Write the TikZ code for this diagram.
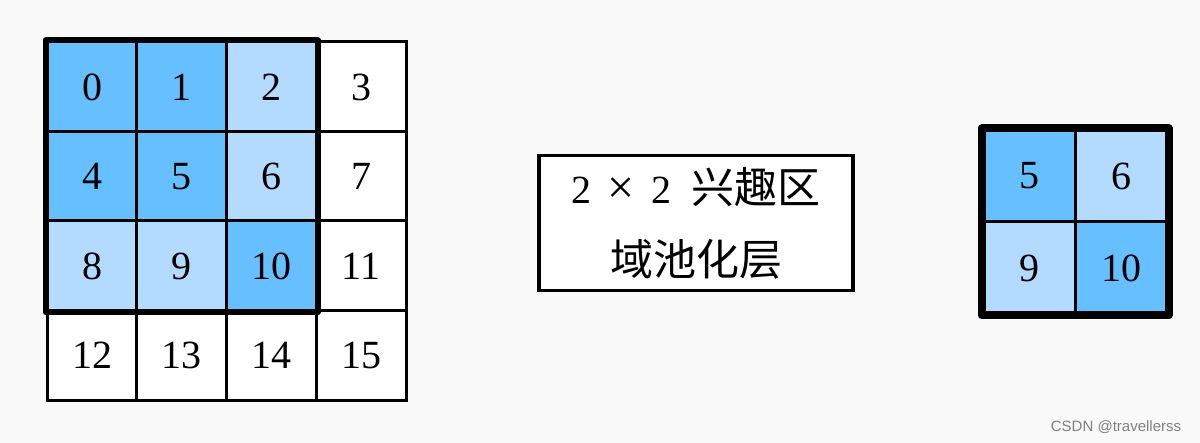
\documentclass[tikz,border=0pt]{standalone}
\usepackage{fontspec}
\setmainfont{Liberation Serif}
\newfontfamily\cjk{Noto Sans CJK SC}
\newfontfamily\wmfont{Liberation Sans}
\definecolor{poolhi}{RGB}{102,191,255}
\definecolor{poollo}{RGB}{179,218,255}
\definecolor{pagebg}{RGB}{249,249,249}
\tikzset{
  cell/.style={draw, line width=3pt, minimum size=90pt, inner sep=0pt,
    font=\fontsize{40}{44}\selectfont},
  outcell/.style={cell, minimum size=92pt},
}
\begin{document}
\begin{tikzpicture}[x=1pt,y=-1pt]
\fill[pagebg] (0,0) rectangle (1200,443);
\useasboundingbox (0,0) rectangle (1200,443);
% input 4x4
\foreach \n/\fc in {0/poolhi,1/poolhi,2/poollo,3/white,4/poolhi,5/poolhi,6/poollo,7/white,
  8/poollo,9/poollo,10/poolhi,11/white,12/white,13/white,14/white,15/white}{
  \pgfmathtruncatemacro\row{\n/4}
  \pgfmathtruncatemacro\col{mod(\n,4)}
  \node[cell, fill=\fc] (in\n) at (92+89.7*\col,87+89.5*\row) {\n};
}
\draw[line width=6pt, line join=round] (in0.north west) rectangle (in10.south east);
% pooling layer
\node[draw, line width=3.5pt, fill=white, minimum width=314pt, minimum height=135pt,
  align=center, font=\fontsize{40}{72}\selectfont] (pool) at (696,223)
  {2\hspace{16pt}{\fontsize{48}{72}\selectfont×}\hspace{16pt}2\hspace{20pt}{\cjk\fontsize{43}{72}\selectfont 兴趣区}\\{\cjk\fontsize{43}{72}\selectfont 域池化层}};
% output 2x2
\node[outcell, fill=poolhi] (out5) at (1029,176) {5};
\node[outcell, fill=poollo] (out6) at (1121,176) {6};
\node[outcell, fill=poollo] (out9) at (1029,268) {9};
\node[outcell, fill=poolhi] (out10) at (1121,268) {10};
\draw[line width=8pt, line join=round] (out5.north west) rectangle (out10.south east);
\node[font=\wmfont\fontsize{15}{18}\selectfont, text=gray] (mark) at (1116,427) {CSDN @travellerss};
\end{tikzpicture}
\end{document}
